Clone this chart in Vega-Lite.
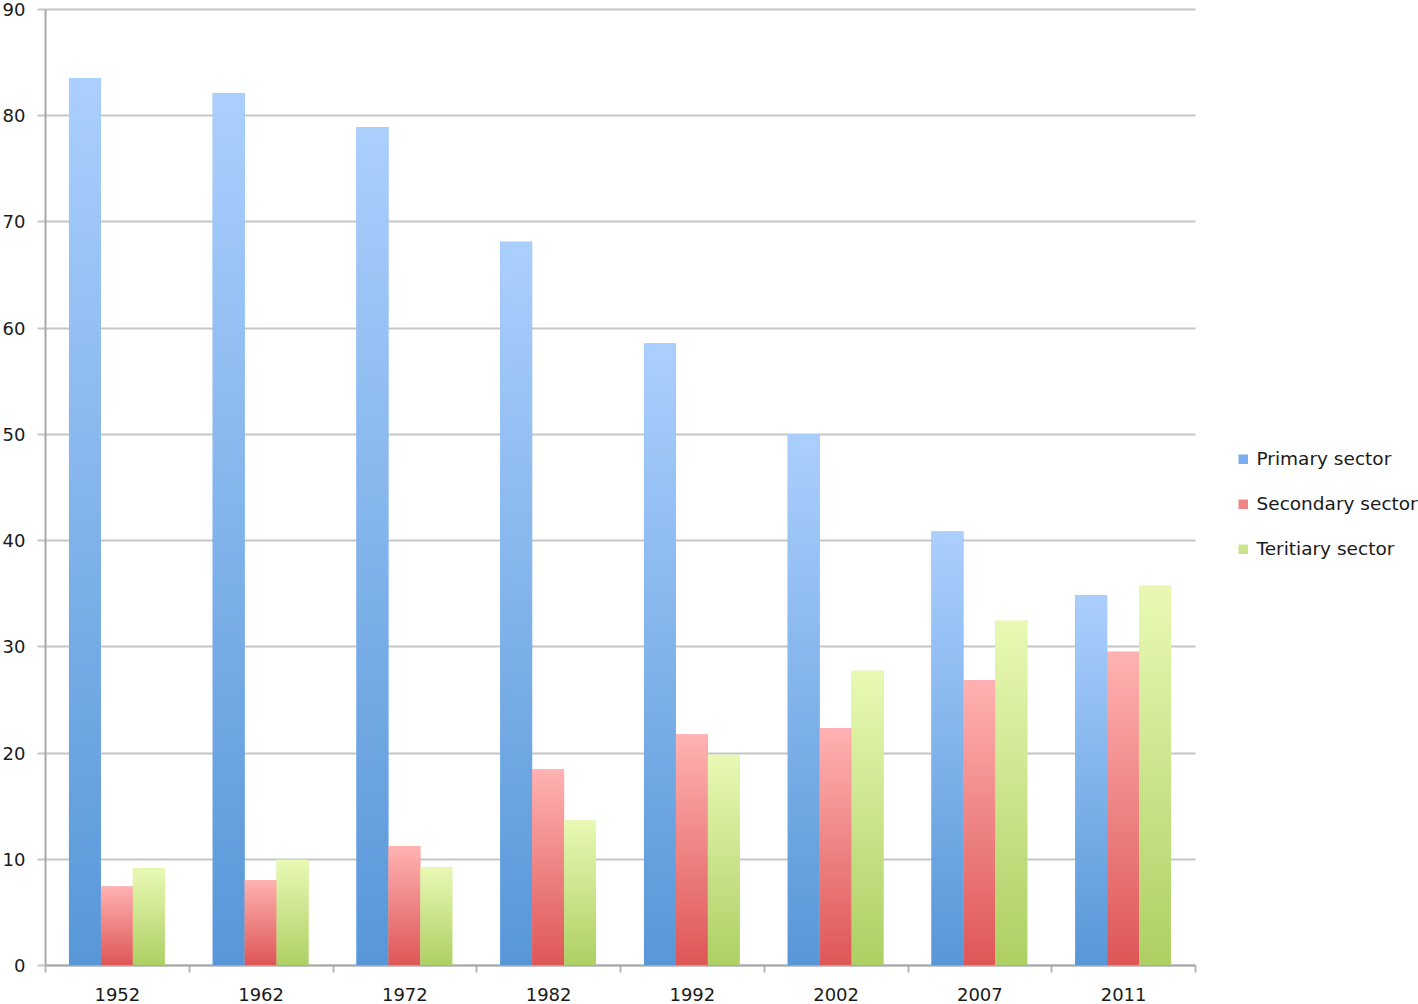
{
  "$schema": "https://vega.github.io/schema/vega-lite/v6.json",
  "width": 1150,
  "height": 956,
  "autosize": {"type": "none"},
  "padding": {"left": 45, "top": 9, "right": 223, "bottom": 39},
  "background": "white",
  "config": {
    "view": {"stroke": null},
    "font": "DejaVu Sans",
    "axis": {"labelFont": "DejaVu Sans", "labelFontSize": 18, "labelColor": "#1a1a1a"}
  },
  "data": {
    "values": [
      {"year": "1952", "sector": "Primary sector", "value": 83.5},
      {"year": "1952", "sector": "Secondary sector", "value": 7.4},
      {"year": "1952", "sector": "Teritiary sector", "value": 9.1},
      {"year": "1962", "sector": "Primary sector", "value": 82.1},
      {"year": "1962", "sector": "Secondary sector", "value": 8.0},
      {"year": "1962", "sector": "Teritiary sector", "value": 9.9},
      {"year": "1972", "sector": "Primary sector", "value": 78.9},
      {"year": "1972", "sector": "Secondary sector", "value": 11.2},
      {"year": "1972", "sector": "Teritiary sector", "value": 9.2},
      {"year": "1982", "sector": "Primary sector", "value": 68.1},
      {"year": "1982", "sector": "Secondary sector", "value": 18.4},
      {"year": "1982", "sector": "Teritiary sector", "value": 13.6},
      {"year": "1992", "sector": "Primary sector", "value": 58.5},
      {"year": "1992", "sector": "Secondary sector", "value": 21.7},
      {"year": "1992", "sector": "Teritiary sector", "value": 19.8},
      {"year": "2002", "sector": "Primary sector", "value": 50.0},
      {"year": "2002", "sector": "Secondary sector", "value": 22.3},
      {"year": "2002", "sector": "Teritiary sector", "value": 27.7},
      {"year": "2007", "sector": "Primary sector", "value": 40.8},
      {"year": "2007", "sector": "Secondary sector", "value": 26.8},
      {"year": "2007", "sector": "Teritiary sector", "value": 32.4},
      {"year": "2011", "sector": "Primary sector", "value": 34.8},
      {"year": "2011", "sector": "Secondary sector", "value": 29.5},
      {"year": "2011", "sector": "Teritiary sector", "value": 35.7}
    ]
  },
  "encoding": {
    "x": {
      "field": "year", "type": "nominal", "title": null, "sort": null,
      "scale": {"paddingInner": 0, "paddingOuter": 0},
      "axis": {
        "labelAngle": 0, "tickBand": "extent", "domainColor": "#a8a8a8", "domainWidth": 2,
        "tickColor": "#b8b8b8", "tickWidth": 2, "tickSize": 7, "labelPadding": 14
      }
    },
    "xOffset": {
      "field": "sector", "type": "nominal",
      "sort": ["Primary sector", "Secondary sector", "Teritiary sector"],
      "scale": {"paddingInner": 0, "paddingOuter": 0.75}
    },
    "y": {
      "field": "value", "type": "quantitative", "title": null,
      "scale": {"domain": [0, 90], "nice": false},
      "axis": {
        "values": [0, 10, 20, 30, 40, 50, 60, 70, 80, 90],
        "grid": true, "gridColor": "#c6c6c6", "gridWidth": 2,
        "domainColor": "#a8a8a8", "domainWidth": 2,
        "tickColor": "#c6c6c6", "tickWidth": 2, "tickSize": 8, "labelPadding": 12,
        "labelOffset": 1.5
      }
    }
  },
  "layer": [
    {
      "mark": {"type": "bar", "cornerRadius": 0},
      "encoding": {
        "color": {
          "field": "sector", "type": "nominal",
          "scale": {
            "domain": ["Primary sector", "Secondary sector", "Teritiary sector"],
            "range": ["#7aaef0", "#ee8686", "#c9e48c"]
          },
          "legend": {
            "title": null, "orient": "none", "legendX": 1189, "legendY": 441,
            "symbolType": "square", "symbolSize": 90, "symbolStrokeWidth": 0,
            "labelFontSize": 18.5, "labelFont": "DejaVu Sans", "labelColor": "#1a1a1a",
            "labelLimit": 400, "rowPadding": 26, "labelOffset": 4
          }
        }
      }
    },
    {
      "mark": {"type": "bar"},
      "encoding": {
        "color": {
          "condition": [
            {
              "test": "datum.sector === 'Primary sector'",
              "value": {"gradient": "linear", "x1": 0, "y1": 0, "x2": 0, "y2": 1,
                "stops": [{"offset": 0, "color": "#abcffd"}, {"offset": 1, "color": "#5797d8"}]}
            },
            {
              "test": "datum.sector === 'Secondary sector'",
              "value": {"gradient": "linear", "x1": 0, "y1": 0, "x2": 0, "y2": 1,
                "stops": [{"offset": 0, "color": "#ffb2b2"}, {"offset": 1, "color": "#de5656"}]}
            }
          ],
          "value": {"gradient": "linear", "x1": 0, "y1": 0, "x2": 0, "y2": 1,
            "stops": [{"offset": 0, "color": "#e9f9b4"}, {"offset": 1, "color": "#add064"}]}
        }
      }
    }
  ]
}
